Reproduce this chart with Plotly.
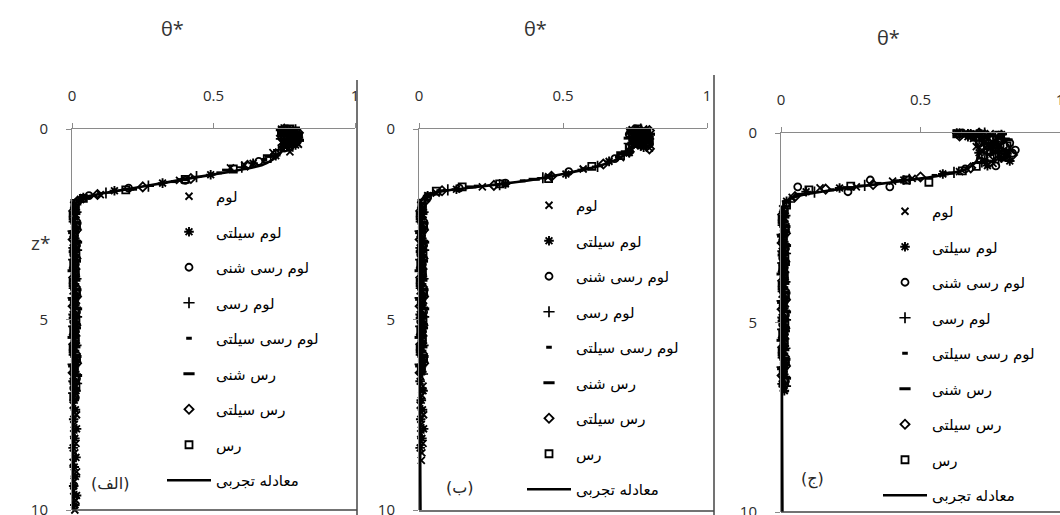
import plotly.graph_objects as go

W, H = 1060, 515

# ---------------- labels ----------------
SERIES_NAMES = ["لوم", "لوم سیلتی", "لوم رسی شنی", "لوم رسی",
                "لوم رسی سیلتی", "رس شنی", "رس سیلتی", "رس"]
LINE_NAME = "معادله تجربی"
PANEL_TAGS = ["(الف)", "(ب)", "(ج)"]
X_TICKS = [0, 0.5, 1]
Y_TICKS = [0, 5, 10]
X_TITLE = "θ*"
Y_TITLE = "z*"

# ---------------- panel 1 (الف) : (theta*, z*) ----------------
P1_LOAM = [(0.75, 0.02), (0.78, 0.10), (0.77, 0.25), (0.74, 0.35), (0.77, 0.60), (0.71, 0.62),
           (0.74, 0.05), (0.79, 0.18), (0.76, 0.30), (0.80, 0.40), (0.75, 0.45),
           (0.61, 0.95), (0.56, 1.02), (0.38, 1.35), (0.10, 1.72), (0.03, 1.85),
           (0.006, 2.00), (0.014, 2.25), (0.010, 2.50), (0.004, 2.75), (0.016, 3.00), (0.008, 3.25),
           (0.006, 3.50), (0.014, 3.75), (0.010, 4.00), (0.004, 4.25), (0.016, 4.50), (0.008, 4.75),
           (0.006, 5.00), (0.014, 5.25), (0.010, 5.50), (0.004, 5.75), (0.016, 6.00), (0.008, 6.25),
           (0.006, 6.50), (0.014, 6.75), (0.010, 7.00), (0.004, 7.25), (0.016, 7.50), (0.008, 7.75),
           (0.006, 8.00), (0.014, 8.25), (0.010, 8.50), (0.004, 8.75), (0.016, 9.00), (0.008, 9.25),
           (0.006, 9.50), (0.014, 9.75), (0.010, 10.00)]
P1_SILTY_LOAM = [(0.77, 0.05), (0.79, 0.15), (0.75, 0.30), (0.76, 0.45), (0.72, 0.70), (0.64, 0.90),
                 (0.74, 0.00), (0.78, 0.08), (0.80, 0.22), (0.77, 0.36), (0.79, 0.42),
                 (0.49, 1.20), (0.32, 1.42), (0.15, 1.62), (0.04, 1.80),
                 (0.012, 2.12), (0.006, 2.37), (0.016, 2.62), (0.010, 2.87), (0.004, 3.12),
                 (0.014, 3.37), (0.008, 3.62), (0.012, 3.87), (0.006, 4.12), (0.016, 4.37),
                 (0.010, 4.62), (0.004, 4.87), (0.014, 5.12), (0.008, 5.37), (0.012, 5.62),
                 (0.006, 5.87), (0.016, 6.12), (0.010, 6.37), (0.004, 6.62), (0.014, 6.87),
                 (0.008, 7.12), (0.012, 7.37), (0.006, 7.62), (0.016, 7.87), (0.010, 8.12),
                 (0.004, 8.37), (0.014, 8.62), (0.008, 8.87), (0.012, 9.12), (0.006, 9.37),
                 (0.016, 9.62), (0.010, 9.87)]
P1_SANDY_CLAY_LOAM = [(0.76, 0.00), (0.78, 0.12), (0.79, 0.28), (0.75, 0.50), (0.66, 0.85),
                      (0.74, 0.04), (0.80, 0.16), (0.76, 0.22), (0.78, 0.40), (0.77, 0.06),
                      (0.40, 1.35), (0.20, 1.55), (0.06, 1.75), (0.02, 1.90),
                      (0.010, 2.05), (0.004, 2.30), (0.014, 2.55), (0.008, 2.80), (0.016, 3.05),
                      (0.006, 3.30), (0.012, 3.55), (0.010, 3.80), (0.004, 4.05), (0.014, 4.30),
                      (0.008, 4.55), (0.016, 4.80), (0.006, 5.05), (0.012, 5.30), (0.010, 5.55),
                      (0.004, 5.80), (0.014, 6.05), (0.008, 6.30), (0.016, 6.55), (0.006, 6.80),
                      (0.012, 7.05)]
P1_CLAY_LOAM = [(0.77, 0.08), (0.75, 0.20), (0.78, 0.38), (0.73, 0.55), (0.60, 1.00), (0.44, 1.25),
                (0.79, 0.02), (0.76, 0.12), (0.80, 0.28), (0.74, 0.26), (0.78, 0.45),
                (0.27, 1.50), (0.12, 1.68), (0.03, 1.86),
                (0.014, 2.18), (0.008, 2.43), (0.004, 2.68), (0.012, 2.93), (0.016, 3.18),
                (0.006, 3.43), (0.010, 3.68), (0.014, 3.93), (0.008, 4.18), (0.004, 4.43),
                (0.012, 4.68), (0.016, 4.93), (0.006, 5.18), (0.010, 5.43), (0.014, 5.68),
                (0.008, 5.93), (0.004, 6.18), (0.012, 6.43), (0.016, 6.68), (0.006, 6.93)]
P1_SILTY_CLAY_LOAM = [(0.78, 0.03), (0.76, 0.18), (0.77, 0.32), (0.74, 0.48), (0.68, 0.80),
                      (0.75, 0.08), (0.79, 0.12), (0.80, 0.35), (0.75, 0.40), (0.76, 0.00),
                      (0.52, 1.15), (0.36, 1.38), (0.22, 1.58), (0.08, 1.75),
                      (0.008, 2.08), (0.016, 2.33), (0.006, 2.58), (0.012, 2.83), (0.004, 3.08),
                      (0.014, 3.33), (0.010, 3.58), (0.008, 3.83), (0.016, 4.08), (0.006, 4.33),
                      (0.012, 4.58), (0.004, 4.83), (0.014, 5.08), (0.010, 5.33), (0.008, 5.58),
                      (0.016, 5.83), (0.006, 6.08), (0.012, 6.33), (0.004, 6.58), (0.014, 6.83),
                      (0.010, 7.08)]
P1_SANDY_CLAY = [(0.77, 0.10), (0.79, 0.22), (0.76, 0.40), (0.70, 0.72), (0.55, 1.08), (0.39, 1.33),
                 (0.74, 0.02), (0.78, 0.06), (0.75, 0.16), (0.80, 0.30), (0.77, 0.46),
                 (0.20, 1.58), (0.05, 1.80),
                 (0.010, 2.22), (0.014, 2.47), (0.006, 2.72), (0.016, 2.97), (0.008, 3.22),
                 (0.012, 3.47), (0.004, 3.72), (0.010, 3.97), (0.014, 4.22), (0.006, 4.47),
                 (0.016, 4.72), (0.008, 4.97), (0.012, 5.22), (0.004, 5.47), (0.010, 5.72),
                 (0.014, 5.97), (0.006, 6.22), (0.016, 6.47)]
P1_SILTY_CLAY = [(0.78, 0.06), (0.76, 0.26), (0.79, 0.36), (0.72, 0.65), (0.62, 0.95), (0.42, 1.30),
                 (0.75, 0.00), (0.80, 0.10), (0.74, 0.18), (0.77, 0.44), (0.79, 0.28),
                 (0.25, 1.52), (0.09, 1.72), (0.02, 1.90),
                 (0.006, 2.15), (0.012, 2.40), (0.016, 2.65), (0.004, 2.90), (0.010, 3.15),
                 (0.014, 3.40), (0.008, 3.65), (0.006, 3.90), (0.012, 4.15), (0.016, 4.40),
                 (0.004, 4.65), (0.010, 4.90), (0.014, 5.15), (0.008, 5.40), (0.006, 5.65),
                 (0.012, 5.90), (0.016, 6.15), (0.004, 6.40), (0.010, 6.65)]
P1_CLAY = [(0.77, 0.00), (0.75, 0.16), (0.78, 0.30), (0.69, 0.78), (0.57, 1.05), (0.40, 1.32),
           (0.79, 0.05), (0.74, 0.10), (0.80, 0.20), (0.76, 0.36), (0.75, 0.48),
           (0.19, 1.60), (0.04, 1.82), (0.01, 1.95),
           (0.012, 2.03), (0.004, 2.28), (0.016, 2.53), (0.008, 2.78), (0.010, 3.03),
           (0.014, 3.28), (0.006, 3.53), (0.012, 3.78), (0.004, 4.03), (0.016, 4.28),
           (0.008, 4.53), (0.010, 4.78), (0.014, 5.03), (0.006, 5.28), (0.012, 5.53),
           (0.004, 5.78), (0.016, 6.03), (0.008, 6.28), (0.010, 6.53), (0.014, 6.78),
           (0.006, 7.03)]
P1_EMPIRICAL = [(0.77, 0.0), (0.77, 0.2), (0.76, 0.4), (0.74, 0.6), (0.71, 0.8), (0.67, 0.95),
                (0.61, 1.05), (0.52, 1.17), (0.42, 1.29), (0.32, 1.42), (0.22, 1.55), (0.13, 1.66),
                (0.06, 1.76), (0.02, 1.86), (0.01, 2.0), (0.005, 2.5), (0.005, 10.0)]

# ---------------- panel 2 (ب) ----------------
P2_LOAM = [(0.74, 0.02), (0.77, 0.12), (0.79, 0.25), (0.76, 0.38), (0.80, 0.50), (0.70, 0.75),
           (0.73, 0.06), (0.78, 0.00), (0.75, 0.20), (0.80, 0.32), (0.77, 0.44),
           (0.57, 1.05), (0.45, 1.25), (0.22, 1.52), (0.06, 1.68),
           (0.006, 2.00), (0.014, 2.25), (0.010, 2.50), (0.004, 2.75), (0.016, 3.00), (0.008, 3.25),
           (0.006, 3.50), (0.014, 3.75), (0.010, 4.00), (0.004, 4.25), (0.016, 4.50), (0.008, 4.75),
           (0.006, 5.00), (0.014, 5.25), (0.010, 5.50), (0.004, 5.75), (0.016, 6.00), (0.008, 6.25),
           (0.006, 6.50), (0.014, 6.75), (0.010, 7.00), (0.004, 7.25), (0.016, 7.50), (0.008, 7.75),
           (0.006, 8.00), (0.014, 8.25), (0.010, 8.50), (0.008, 8.70)]
P2_SILTY_LOAM = [(0.76, 0.04), (0.78, 0.16), (0.75, 0.30), (0.77, 0.44), (0.73, 0.62), (0.66, 0.85),
                 (0.74, 0.10), (0.79, 0.06), (0.80, 0.26), (0.74, 0.36), (0.78, 0.48),
                 (0.51, 1.18), (0.30, 1.44), (0.13, 1.58), (0.03, 1.75),
                 (0.012, 2.12), (0.006, 2.37), (0.016, 2.62), (0.010, 2.87), (0.004, 3.12),
                 (0.014, 3.37), (0.008, 3.62), (0.012, 3.87), (0.006, 4.12), (0.016, 4.37),
                 (0.010, 4.62), (0.004, 4.87), (0.014, 5.12), (0.008, 5.37), (0.012, 5.62),
                 (0.006, 5.87), (0.016, 6.12), (0.010, 6.37), (0.004, 6.62), (0.014, 6.87),
                 (0.008, 7.12), (0.012, 7.37), (0.006, 7.62), (0.016, 7.87), (0.010, 8.12),
                 (0.004, 8.37)]
P2_SANDY_CLAY_LOAM = [(0.75, 0.00), (0.77, 0.10), (0.79, 0.22), (0.74, 0.42), (0.68, 0.78),
                      (0.73, 0.14), (0.78, 0.34), (0.76, 0.05), (0.80, 0.40), (0.75, 0.28),
                      (0.52, 1.12), (0.30, 1.42), (0.14, 1.55), (0.03, 1.80),
                      (0.010, 2.05), (0.004, 2.30), (0.014, 2.55), (0.008, 2.80), (0.016, 3.05),
                      (0.006, 3.30), (0.012, 3.55), (0.010, 3.80), (0.004, 4.05), (0.014, 4.30),
                      (0.008, 4.55), (0.016, 4.80), (0.006, 5.05), (0.012, 5.30), (0.010, 5.55),
                      (0.004, 5.80), (0.014, 6.05), (0.008, 6.30)]
P2_CLAY_LOAM = [(0.76, 0.07), (0.74, 0.20), (0.78, 0.34), (0.72, 0.58), (0.62, 0.98), (0.43, 1.28),
                (0.77, 0.00), (0.80, 0.12), (0.75, 0.26), (0.79, 0.44), (0.73, 0.38),
                (0.28, 1.46), (0.10, 1.60), (0.02, 1.85),
                (0.014, 2.18), (0.008, 2.43), (0.004, 2.68), (0.012, 2.93), (0.016, 3.18),
                (0.006, 3.43), (0.010, 3.68), (0.014, 3.93), (0.008, 4.18), (0.004, 4.43),
                (0.012, 4.68), (0.016, 4.93), (0.006, 5.18), (0.010, 5.43), (0.014, 5.68),
                (0.008, 5.93), (0.004, 6.18), (0.012, 6.43)]
P2_SILTY_CLAY_LOAM = [(0.77, 0.03), (0.75, 0.18), (0.78, 0.30), (0.74, 0.48), (0.69, 0.74),
                      (0.73, 0.00), (0.79, 0.10), (0.76, 0.24), (0.80, 0.36), (0.77, 0.42),
                      (0.56, 1.08), (0.36, 1.36), (0.20, 1.50), (0.07, 1.62),
                      (0.008, 2.08), (0.016, 2.33), (0.006, 2.58), (0.012, 2.83), (0.004, 3.08),
                      (0.014, 3.33), (0.010, 3.58), (0.008, 3.83), (0.016, 4.08), (0.006, 4.33),
                      (0.012, 4.58), (0.004, 4.83), (0.014, 5.08), (0.010, 5.33), (0.008, 5.58),
                      (0.016, 5.83), (0.006, 6.08), (0.012, 6.33)]
P2_SANDY_CLAY = [(0.76, 0.09), (0.79, 0.20), (0.75, 0.36), (0.71, 0.66), (0.58, 1.04), (0.40, 1.32),
                 (0.74, 0.02), (0.78, 0.28), (0.80, 0.14), (0.76, 0.46), (0.73, 0.24),
                 (0.18, 1.52), (0.04, 1.70),
                 (0.010, 2.22), (0.014, 2.47), (0.006, 2.72), (0.016, 2.97), (0.008, 3.22),
                 (0.012, 3.47), (0.004, 3.72), (0.010, 3.97), (0.014, 4.22), (0.006, 4.47),
                 (0.016, 4.72), (0.008, 4.97), (0.012, 5.22), (0.004, 5.47), (0.010, 5.72),
                 (0.014, 5.97), (0.006, 6.22)]
P2_SILTY_CLAY = [(0.77, 0.06), (0.75, 0.24), (0.79, 0.40), (0.73, 0.60), (0.64, 0.92), (0.46, 1.24),
                 (0.80, 0.04), (0.74, 0.12), (0.78, 0.18), (0.76, 0.34), (0.80, 0.52),
                 (0.26, 1.48), (0.08, 1.62), (0.02, 1.90),
                 (0.006, 2.15), (0.012, 2.40), (0.016, 2.65), (0.004, 2.90), (0.010, 3.15),
                 (0.014, 3.40), (0.008, 3.65), (0.006, 3.90), (0.012, 4.15), (0.016, 4.40),
                 (0.004, 4.65), (0.010, 4.90), (0.014, 5.15), (0.008, 5.40), (0.006, 5.65),
                 (0.012, 5.90), (0.016, 6.15), (0.004, 6.40)]
P2_CLAY = [(0.76, 0.00), (0.74, 0.14), (0.78, 0.28), (0.70, 0.70), (0.60, 0.98), (0.45, 1.30),
           (0.79, 0.08), (0.75, 0.22), (0.77, 0.40), (0.80, 0.30), (0.73, 0.50),
           (0.28, 1.44), (0.15, 1.52), (0.06, 1.63), (0.01, 1.95),
           (0.012, 2.03), (0.004, 2.28), (0.016, 2.53), (0.008, 2.78), (0.010, 3.03),
           (0.014, 3.28), (0.006, 3.53), (0.012, 3.78), (0.004, 4.03), (0.016, 4.28),
           (0.008, 4.53), (0.010, 4.78), (0.014, 5.03), (0.006, 5.28), (0.012, 5.53),
           (0.004, 5.78), (0.016, 6.03), (0.008, 6.28)]
P2_EMPIRICAL = [(0.74, 0.0), (0.75, 0.2), (0.74, 0.45), (0.71, 0.70), (0.66, 0.88), (0.59, 1.04),
                (0.50, 1.18), (0.41, 1.31), (0.30, 1.43), (0.19, 1.53), (0.09, 1.62), (0.03, 1.72),
                (0.01, 1.85), (0.005, 2.1), (0.005, 10.0)]

# ---------------- panel 3 (ج) ----------------
P3_LOAM = [(0.66, 0.00), (0.70, 0.05), (0.74, 0.15), (0.78, 0.30), (0.72, 0.45), (0.80, 0.60),
           (0.64, 0.04), (0.69, 0.14), (0.75, 0.02), (0.79, 0.08), (0.73, 0.26), (0.77, 0.50),
           (0.70, 0.36), (0.82, 0.40), (0.76, 0.70),
           (0.76, 0.80), (0.64, 1.02), (0.47, 1.20), (0.40, 1.27), (0.27, 1.42), (0.14, 1.45),
           (0.04, 1.70),
           (0.006, 2.00), (0.014, 2.25), (0.010, 2.50), (0.004, 2.75), (0.016, 3.00), (0.008, 3.25),
           (0.006, 3.50), (0.014, 3.75), (0.010, 4.00), (0.004, 4.25), (0.016, 4.50), (0.008, 4.75),
           (0.006, 5.00), (0.014, 5.25), (0.010, 5.50), (0.004, 5.75), (0.016, 6.00), (0.008, 6.25),
           (0.006, 6.50), (0.014, 6.75)]
P3_SILTY_LOAM = [(0.68, 0.02), (0.73, 0.10), (0.77, 0.22), (0.75, 0.40), (0.81, 0.55), (0.73, 0.72),
                 (0.63, 0.00), (0.71, 0.00), (0.79, 0.04), (0.67, 0.10), (0.76, 0.32), (0.71, 0.52),
                 (0.79, 0.66), (0.74, 0.86), (0.82, 0.74),
                 (0.58, 1.08), (0.44, 1.24), (0.21, 1.45), (0.09, 1.55), (0.02, 1.80),
                 (0.012, 2.12), (0.006, 2.37), (0.016, 2.62), (0.010, 2.87), (0.004, 3.12),
                 (0.014, 3.37), (0.008, 3.62), (0.012, 3.87), (0.006, 4.12), (0.016, 4.37),
                 (0.010, 4.62), (0.004, 4.87), (0.014, 5.12), (0.008, 5.37), (0.012, 5.62),
                 (0.006, 5.87), (0.016, 6.12), (0.010, 6.37), (0.004, 6.62), (0.012, 6.80)]
P3_SANDY_CLAY_LOAM = [(0.65, 0.00), (0.72, 0.08), (0.82, 0.26), (0.74, 0.35), (0.84, 0.45),
                      (0.83, 0.53), (0.80, 0.62), (0.77, 0.87), (0.66, 0.95),
                      (0.68, 0.04), (0.76, 0.12), (0.79, 0.20), (0.71, 0.28), (0.78, 0.44),
                      (0.39, 1.42), (0.32, 1.24), (0.24, 1.55), (0.06, 1.42), (0.02, 1.85),
                      (0.010, 2.05), (0.004, 2.30), (0.014, 2.55), (0.008, 2.80), (0.016, 3.05),
                      (0.006, 3.30), (0.012, 3.55), (0.010, 3.80), (0.004, 4.05), (0.014, 4.30),
                      (0.008, 4.55), (0.016, 4.80), (0.006, 5.05), (0.012, 5.30), (0.010, 5.55),
                      (0.004, 5.80), (0.014, 6.05), (0.008, 6.30), (0.016, 6.55)]
P3_CLAY_LOAM = [(0.67, 0.04), (0.71, 0.12), (0.76, 0.25), (0.79, 0.42), (0.74, 0.58), (0.78, 0.70),
                (0.64, 0.02), (0.73, 0.00), (0.80, 0.14), (0.70, 0.20), (0.77, 0.54), (0.72, 0.76),
                (0.62, 1.04), (0.46, 1.22), (0.30, 1.38), (0.12, 1.56), (0.03, 1.82),
                (0.014, 2.18), (0.008, 2.43), (0.004, 2.68), (0.012, 2.93), (0.016, 3.18),
                (0.006, 3.43), (0.010, 3.68), (0.014, 3.93), (0.008, 4.18), (0.004, 4.43),
                (0.012, 4.68), (0.016, 4.93), (0.006, 5.18), (0.010, 5.43), (0.014, 5.68),
                (0.008, 5.93), (0.004, 6.18), (0.012, 6.43), (0.016, 6.68)]
P3_SILTY_CLAY_LOAM = [(0.69, 0.01), (0.75, 0.06), (0.72, 0.20), (0.78, 0.36), (0.76, 0.52),
                      (0.71, 0.66), (0.66, 0.06), (0.80, 0.02), (0.74, 0.30), (0.81, 0.48),
                      (0.55, 1.12), (0.35, 1.33), (0.18, 1.50), (0.06, 1.62),
                      (0.008, 2.08), (0.016, 2.33), (0.006, 2.58), (0.012, 2.83), (0.004, 3.08),
                      (0.014, 3.33), (0.010, 3.58), (0.008, 3.83), (0.016, 4.08), (0.006, 4.33),
                      (0.012, 4.58), (0.004, 4.83), (0.014, 5.08), (0.010, 5.33), (0.008, 5.58),
                      (0.016, 5.83), (0.006, 6.08), (0.012, 6.33), (0.004, 6.58)]
P3_SANDY_CLAY = [(0.70, 0.03), (0.77, 0.08), (0.74, 0.28), (0.79, 0.48), (0.72, 0.78), (0.60, 1.06),
                 (0.65, 0.00), (0.68, 0.12), (0.81, 0.18), (0.76, 0.40), (0.80, 0.64),
                 (0.42, 1.26), (0.24, 1.44), (0.07, 1.62),
                 (0.010, 2.22), (0.014, 2.47), (0.006, 2.72), (0.016, 2.97), (0.008, 3.22),
                 (0.012, 3.47), (0.004, 3.72), (0.010, 3.97), (0.014, 4.22), (0.006, 4.47),
                 (0.016, 4.72), (0.008, 4.97), (0.012, 5.22), (0.004, 5.47), (0.010, 5.72),
                 (0.014, 5.97), (0.006, 6.22), (0.016, 6.47)]
P3_SILTY_CLAY = [(0.71, 0.00), (0.76, 0.14), (0.80, 0.32), (0.75, 0.50), (0.79, 0.64), (0.68, 0.92),
                 (0.64, 0.08), (0.73, 0.04), (0.78, 0.24), (0.72, 0.40), (0.83, 0.58),
                 (0.50, 1.16), (0.33, 1.36), (0.16, 1.48), (0.05, 1.68),
                 (0.006, 2.15), (0.012, 2.40), (0.016, 2.65), (0.004, 2.90), (0.010, 3.15),
                 (0.014, 3.40), (0.008, 3.65), (0.006, 3.90), (0.012, 4.15), (0.016, 4.40),
                 (0.004, 4.65), (0.010, 4.90), (0.014, 5.15), (0.008, 5.40), (0.006, 5.65),
                 (0.012, 5.90), (0.016, 6.15), (0.004, 6.40), (0.010, 6.65)]
P3_CLAY = [(0.68, 0.05), (0.73, 0.18), (0.77, 0.40), (0.79, 0.58), (0.70, 0.88), (0.65, 1.00),
           (0.63, 0.02), (0.70, 0.10), (0.78, 0.06), (0.74, 0.46), (0.81, 0.34), (0.75, 0.66),
           (0.53, 1.30), (0.45, 1.24), (0.25, 1.40), (0.10, 1.50), (0.02, 1.90),
           (0.012, 2.03), (0.004, 2.28), (0.016, 2.53), (0.008, 2.78), (0.010, 3.03),
           (0.014, 3.28), (0.006, 3.53), (0.012, 3.78), (0.004, 4.03), (0.016, 4.28),
           (0.008, 4.53), (0.010, 4.78), (0.014, 5.03), (0.006, 5.28), (0.012, 5.53),
           (0.004, 5.78), (0.016, 6.03), (0.008, 6.28), (0.010, 6.53)]
P3_EMPIRICAL = [(0.68, 0.0), (0.70, 0.25), (0.71, 0.5), (0.70, 0.75), (0.67, 0.93), (0.60, 1.08),
                (0.51, 1.19), (0.40, 1.30), (0.28, 1.41), (0.17, 1.52), (0.08, 1.63), (0.03, 1.75),
                (0.01, 1.9), (0.005, 2.2), (0.005, 10.0)]

PANEL_SERIES = [
    [P1_LOAM, P1_SILTY_LOAM, P1_SANDY_CLAY_LOAM, P1_CLAY_LOAM, P1_SILTY_CLAY_LOAM, P1_SANDY_CLAY, P1_SILTY_CLAY, P1_CLAY],
    [P2_LOAM, P2_SILTY_LOAM, P2_SANDY_CLAY_LOAM, P2_CLAY_LOAM, P2_SILTY_CLAY_LOAM, P2_SANDY_CLAY, P2_SILTY_CLAY, P2_CLAY],
    [P3_LOAM, P3_SILTY_LOAM, P3_SANDY_CLAY_LOAM, P3_CLAY_LOAM, P3_SILTY_CLAY_LOAM, P3_SANDY_CLAY, P3_SILTY_CLAY, P3_CLAY],
]
PANEL_LINES = [P1_EMPIRICAL, P2_EMPIRICAL, P3_EMPIRICAL]

# ---------------- styles ----------------
MARKER_STYLES = [
    dict(symbol="x-thin-open", size=7, line=dict(width=1.8, color="black")),
    dict(symbol="asterisk-open", size=8, line=dict(width=1.9, color="black")),
    dict(symbol="circle-open", size=7, line=dict(width=1.8, color="black")),
    dict(symbol="cross-thin-open", size=8, line=dict(width=1.7, color="black")),
    dict(symbol="line-ew-open", size=4, line=dict(width=3, color="black")),
    dict(symbol="line-ew-open", size=8, line=dict(width=3, color="black")),
    dict(symbol="diamond-open", size=7, line=dict(width=1.8, color="black")),
    dict(symbol="square-open", size=7, line=dict(width=1.8, color="black")),
]

# pixel layout of panels: (left, right, top, bottom)
PANEL_BOX = [(72, 355, 129, 510), (419, 707, 129, 510), (781, 1060, 133, 512)]
LEGEND_POS = [(162, 180), (522, 189), (878, 195)]
TITLE_POS = [(172, 28), (535, 28), (888, 37)]
TAG_POS = [(110, 483), (460, 487), (812, 479)]


def px(x):
    return x / W


def py(y):
    return 1 - y / H


fig = go.Figure()
legend_ids = ["legend", "legend2", "legend3"]

for p in range(3):
    xa = "x" if p == 0 else f"x{p + 1}"
    ya = "y" if p == 0 else f"y{p + 1}"
    for s, pts in enumerate(PANEL_SERIES[p]):
        fig.add_trace(go.Scatter(
            x=[t for t, z in pts], y=[z for t, z in pts], mode="markers",
            name=SERIES_NAMES[s], marker=dict(color="black", **MARKER_STYLES[s]),
            xaxis=xa, yaxis=ya, legend=legend_ids[p], legendgroup=f"p{p}s{s}",
            cliponaxis=False, showlegend=True))
    line = PANEL_LINES[p]
    fig.add_trace(go.Scatter(
        x=[t for t, z in line], y=[z for t, z in line], mode="lines",
        name=LINE_NAME, line=dict(color="black", width=2.6, shape="spline", smoothing=0.6),
        xaxis=xa, yaxis=ya, legend=legend_ids[p], legendgroup=f"p{p}line",
        cliponaxis=False))

axis_common = dict(showgrid=False, zeroline=False, showline=True, linecolor="#8a8a8a",
                   linewidth=1, ticks="outside", ticklen=5, tickcolor="#8a8a8a",
                   ticklabeloverflow="allow",
                   tickfont=dict(family="Open Sans, DejaVu Sans", size=15, color="#2b2b2b"))

layout = dict(width=W, height=H, margin=dict(l=0, r=0, t=0, b=0, autoexpand=False),
              paper_bgcolor="white", plot_bgcolor="white", showlegend=True)

for p in range(3):
    l, r, t, b = PANEL_BOX[p]
    kx = "xaxis" if p == 0 else f"xaxis{p + 1}"
    ky = "yaxis" if p == 0 else f"yaxis{p + 1}"
    ya_name = "y" if p == 0 else f"y{p + 1}"
    xa_name = "x" if p == 0 else f"x{p + 1}"
    layout[kx] = dict(axis_common, domain=[px(l), px(r)], range=[0, 1], side="top",
                      tickvals=X_TICKS, ticktext=[str(v) for v in X_TICKS],
                      anchor=ya_name, ticklabelstandoff=16, automargin=False)
    layout[ky] = dict(axis_common, domain=[py(b), py(t)], range=[10, 0],
                      tickvals=Y_TICKS, ticktext=[str(v) for v in Y_TICKS],
                      anchor=xa_name, ticklabelstandoff=15, automargin=False)
    lx, ly = LEGEND_POS[p]
    layout[legend_ids[p]] = dict(x=px(lx), y=py(ly), xanchor="left", yanchor="top",
                                 bgcolor="rgba(0,0,0,0)", tracegroupgap=13, itemwidth=44,
                                 font=dict(family="DejaVu Sans", size=15, color="black"),
                                 traceorder="grouped")

fig.update_layout(**layout)

annotations = []
for p in range(3):
    tx, ty = TITLE_POS[p]
    annotations.append(dict(x=px(tx), y=py(ty), xref="paper", yref="paper", text=X_TITLE,
                            xanchor="center", yanchor="middle", showarrow=False,
                            font=dict(family="Open Sans, DejaVu Sans", size=20, color="#333")))
    gx, gy = TAG_POS[p]
    annotations.append(dict(x=px(gx), y=py(gy), xref="paper", yref="paper", text=PANEL_TAGS[p],
                            xanchor="center", yanchor="middle", showarrow=False,
                            font=dict(family="DejaVu Sans", size=16, color="#262626")))
annotations.append(dict(x=px(40), y=py(243), xref="paper", yref="paper", text=Y_TITLE,
                        xanchor="center", yanchor="middle", showarrow=False,
                        font=dict(family="Open Sans, DejaVu Sans", size=19, color="#333")))
fig.update_layout(annotations=annotations)

shapes = [
    dict(type="line", xref="paper", yref="paper", x0=px(72), x1=px(357), y0=py(510), y1=py(510),
         line=dict(color="#444", width=1.5)),
    dict(type="line", xref="paper", yref="paper", x0=px(357), x1=px(357), y0=py(80), y1=py(515),
         line=dict(color="#444", width=1.5)),
    dict(type="line", xref="paper", yref="paper", x0=px(419), x1=px(714), y0=py(511), y1=py(511),
         line=dict(color="#444", width=1.5)),
    dict(type="line", xref="paper", yref="paper", x0=px(714), x1=px(714), y0=py(75), y1=py(515),
         line=dict(color="#444", width=1.5)),
    dict(type="line", xref="paper", yref="paper", x0=px(781), x1=px(1060), y0=py(512), y1=py(512),
         line=dict(color="#444", width=1.5)),
]
fig.update_layout(shapes=shapes)

fig.write_html("out.html")
